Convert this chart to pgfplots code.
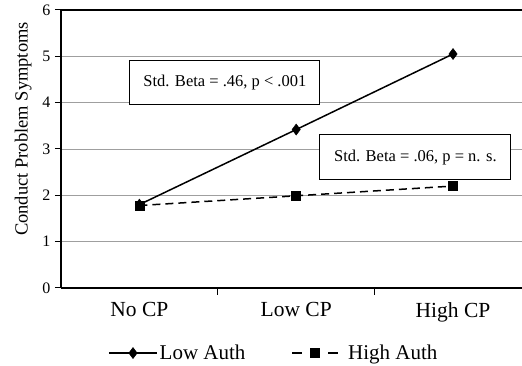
\documentclass[border=0pt]{standalone}
\usepackage{fontspec}
\setmainfont{Liberation Serif}
\usepackage{pgfplots}
\pgfplotsset{compat=1.18}
\begin{document}
\begin{tikzpicture}
\begin{axis}[
  name=ax,
  scale only axis,
  width=461pt, height=278pt,
  xmin=-0.5, xmax=2.44,
  ymin=0, ymax=6,
  axis x line*=bottom,
  axis y line*=left,
  axis line style={black, line width=1.3pt},
  ytick={0,1,2,3,4,5,6},
  xtick={0,1,2},
  xticklabels={No CP, Low CP, High CP},
  major x tick style={draw=none},
  minor xtick={0.5,1.5},
  minor x tick style={black, line width=1pt},
  minor tick length=7pt,
  major tick length=6pt,
  tick align=outside,
  y tick style={black, line width=1pt},
  ymajorgrids,
  grid style={gray!75, line width=0.9pt},
  yticklabel style={font=\fontsize{16}{18}\selectfont, xshift=-1pt},
  xticklabel style={font=\fontsize{21.5}{23}\selectfont, yshift=-5pt},
  /pgf/number format/assume math mode=true,
  ylabel={Conduct Problem Symptoms},
  ylabel style={font=\fontsize{18.5}{20}\selectfont, at={(axis description cs:-0.082,0.572)}, anchor=center},
  legend style={at={(axis description cs:0.102,-0.234)}, anchor=west, draw=none, legend columns=2,
    inner sep=0pt, font=\fontsize{21}{23}\selectfont,
    /tikz/every even column/.append style={column sep=44pt}},
  legend cell align=left,
  legend image code/.code={\draw[mark repeat=2,mark phase=2] plot coordinates {(0pt,0pt) (24pt,0pt) (48pt,0pt)};},
  clip=false,
]
\draw[black, line width=1.4pt] (axis cs:-0.5,6) -- (axis cs:2.44,6);
\addplot[black, line width=1.5pt, mark=diamond*, mark size=5.5pt, mark options={solid, line width=0.5pt}]
  coordinates {(0,1.8) (1,3.42) (2,5.05)};
\addlegendentry{Low Auth}
\addplot[black, line width=1.5pt, dash pattern=on 8pt off 5pt, mark=square*, mark size=4.5pt, mark options={solid, line width=0.5pt},
  legend image code/.code={\draw[dash pattern=on 10pt off 26pt, mark repeat=2, mark phase=2] plot coordinates {(0pt,0pt) (23pt,0pt) (46pt,0pt)}; \path[draw=none, fill=none] (0pt,0pt) rectangle (54pt,0.1pt);}]
  coordinates {(0,1.78) (1,1.99) (2,2.2)};
\addlegendentry{High Auth}
\node[draw=black, fill=white, line width=0.8pt, minimum width=190pt, minimum height=44pt, font=\fontsize{16.5}{18}\selectfont]
  at (axis cs:0.545,4.43) {Std. Beta = .46, p < .001};
\node[draw=black, fill=white, line width=0.8pt, minimum width=191pt, minimum height=45pt, font=\fontsize{16.5}{18}\selectfont]
  at (axis cs:1.76,2.82) {Std. Beta = .06, p = n. s.};
\end{axis}
\pgfresetboundingbox
\path[use as bounding box] ([xshift=-61pt,yshift=-78pt]ax.south west) rectangle ([yshift=10pt]ax.north east);
\end{tikzpicture}
\end{document}
